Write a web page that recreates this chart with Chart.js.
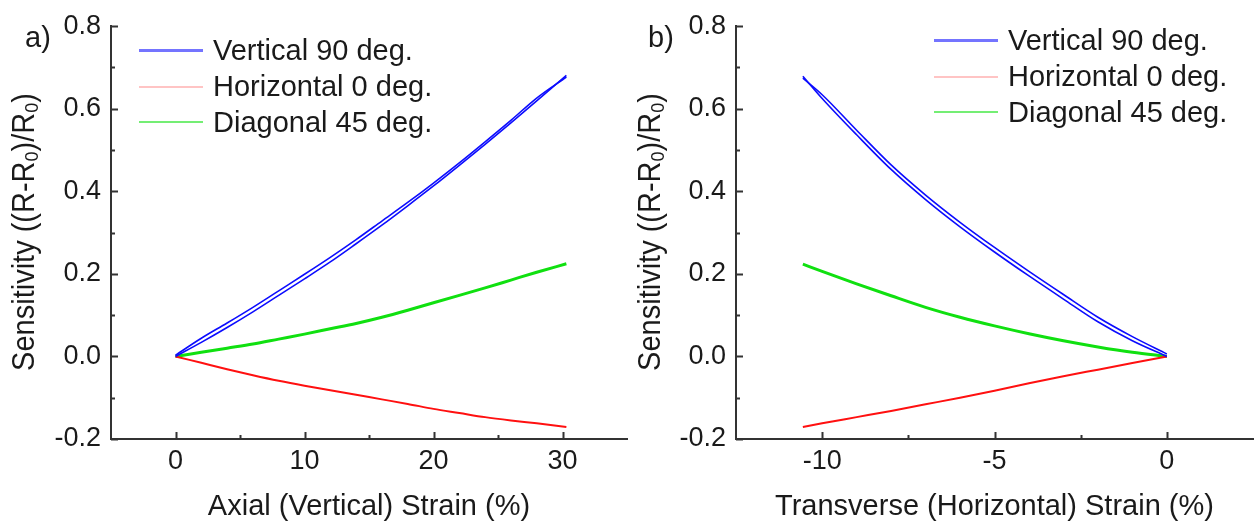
<!DOCTYPE html>
<html>
<head>
<meta charset="utf-8">
<script src="https://cdn.jsdelivr.net/npm/chart.js@4.4.1/dist/chart.umd.min.js"></script>
<style>
  body { margin: 0; background: #fff; font-family: "Liberation Sans", Arial, sans-serif; color: #1a1a1a; }
  #wrap { position: relative; width: 1254px; height: 527px; overflow: hidden; }
  .panel { position: absolute; top: 0; height: 527px; }
  .ytitle { position: absolute; font-size: 29px; white-space: nowrap; transform: translate(-50%, -50%) rotate(-90deg) scaleY(1.05); }
  .ytitle sub { font-size: 0.62em; vertical-align: -0.25em; }
  .tag { position: absolute; font-size: 29px; line-height: 29px; }
  .legend { position: absolute; font-size: 29px; }
  .legend .row { display: flex; align-items: center; height: 35.8px; }
  .legend .sw { width: 64px; margin-right: 10px; }
</style>
</head>
<body>
<div id="wrap">
  <div class="panel" style="left:0;width:628px"><canvas id="chartA"></canvas></div>
  <div class="panel" style="left:626px;width:628px"><canvas id="chartB"></canvas></div>
  <div class="tag" style="left:25px;top:23px">a)</div>
  <div class="tag" style="left:648px;top:23px">b)</div>
  <div class="ytitle" style="left:25px;top:232px">Sensitivity ((R-R<sub>0</sub>)/R<sub>0</sub>)</div>
  <div class="ytitle" style="left:651px;top:232px">Sensitivity ((R-R<sub>0</sub>)/R<sub>0</sub>)</div>
  <div class="legend" id="legendA" style="left:139px;top:33px"></div>
  <div class="legend" id="legendB" style="left:934px;top:23px"></div>
</div>
<script>
// ---- data ----
// panel a: axial strain (%)
const axialX = [0, 2, 4, 6, 8, 10, 12, 14, 16, 18, 20, 22, 24, 26, 28, 30.3];
const vertLoadA = [0, 0.034, 0.070, 0.108, 0.148, 0.188, 0.229, 0.273, 0.318, 0.365, 0.413, 0.463, 0.514, 0.566, 0.619, 0.681];
const vertUnloadA = [0.003, 0.044, 0.081, 0.119, 0.159, 0.199, 0.240, 0.283, 0.328, 0.373, 0.420, 0.469, 0.520, 0.572, 0.626, 0.677];
const horizA = [0, -0.0155, -0.031, -0.0455, -0.059, -0.071, -0.082, -0.093, -0.104, -0.115, -0.127, -0.137, -0.147, -0.155, -0.162, -0.171];
const diagA = [0, 0.010, 0.020, 0.030, 0.042, 0.054, 0.067, 0.080, 0.095, 0.112, 0.130, 0.148, 0.166, 0.185, 0.204, 0.2245];

// panel b: transverse strain (%)
const transX = [-10.56, -10, -9, -8, -7, -6, -5, -4, -3, -2, -1, 0];
const vertLoadB = [0.679, 0.625, 0.537, 0.453, 0.380, 0.314, 0.253, 0.195, 0.139, 0.084, 0.038, 0];
const vertUnloadB = [0.674, 0.634, 0.548, 0.464, 0.391, 0.325, 0.264, 0.206, 0.150, 0.095, 0.048, 0.006];
const horizB = [-0.171, -0.162, -0.147, -0.132, -0.116, -0.100, -0.083, -0.065, -0.048, -0.032, -0.016, 0];
const diagB = [0.2236, 0.206, 0.176, 0.147, 0.119, 0.095, 0.074, 0.055, 0.038, 0.023, 0.010, 0];

const seriesNames = ["Vertical 90 deg.", "Horizontal 0 deg.", "Diagonal 45 deg."];

// ticks
const yMajor = [-0.2, 0, 0.2, 0.4, 0.6, 0.8];
const yMinor = [-0.1, 0.1, 0.3, 0.5, 0.7];
const xMajorA = [0, 10, 20, 30];
const xMinorA = [5, 15, 25];
const xMajorB = [-10, -5, 0];
const xMinorB = [-7.5, -2.5];

const FONT = "'Liberation Sans', Arial, sans-serif";
const AXIS = "#333";
const LINE_COLORS = ["#0c0cff", "#ff1010", "#10e010"];
const SWATCH = [
  { color: "#7474ff", h: 3 },
  { color: "#ffc4c4", h: 2 },
  { color: "#74ee74", h: 2 }
];

function pts(xs, ys) { return xs.map((x, i) => ({ x, y: ys[i] })); }

function buildLegend(id) {
  const el = document.getElementById(id);
  seriesNames.forEach((name, i) => {
    const row = document.createElement("div");
    row.className = "row";
    const sw = document.createElement("div");
    sw.className = "sw";
    sw.style.height = SWATCH[i].h + "px";
    sw.style.background = SWATCH[i].color;
    const lab = document.createElement("span");
    lab.textContent = name;
    row.appendChild(sw);
    row.appendChild(lab);
    el.appendChild(row);
  });
}

// Origin-style ticks pointing into the plot
const innerTicks = {
  id: "innerTicks",
  afterDraw(chart, args, o) {
    const { ctx, chartArea: a, scales: { x, y } } = chart;
    ctx.save();
    ctx.strokeStyle = AXIS;
    ctx.lineWidth = 2;
    ctx.beginPath();
    const xt = (list, len) => list.forEach(v => {
      const p = Math.round(x.getPixelForValue(v)) + 0.5;
      ctx.moveTo(p, a.bottom); ctx.lineTo(p, a.bottom - len);
    });
    const yt = (list, len) => list.forEach(v => {
      const p = Math.round(y.getPixelForValue(v)) + 0.5;
      ctx.moveTo(a.left, p); ctx.lineTo(a.left + len, p);
    });
    xt(o.xMajor, 7); xt(o.xMinor, 4);
    yt(yMajor, 7); yt(yMinor, 4);
    ctx.stroke();
    ctx.restore();
  }
};

function line(data, color, width) {
  return {
    data, borderColor: color, borderWidth: width, showLine: true,
    pointRadius: 0, cubicInterpolationMode: "monotone", fill: false
  };
}

function makeChart(id, cfg) {
  return new Chart(document.getElementById(id), {
    type: "scatter",
    data: {
      datasets: [
        line(pts(cfg.x, cfg.vLoad), LINE_COLORS[0], 1.6),
        line(pts(cfg.x, cfg.vUnload), LINE_COLORS[0], 1.6),
        line(pts(cfg.x, cfg.h), LINE_COLORS[1], 2),
        line(pts(cfg.x, cfg.d), LINE_COLORS[2], 3)
      ]
    },
    options: {
      responsive: true,
      maintainAspectRatio: false,
      animation: false,
      layout: { padding: { left: 0, right: 1, top: 23, bottom: 0 } },
      plugins: {
        legend: { display: false },
        tooltip: { enabled: false },
        innerTicks: { xMajor: cfg.xMajor, xMinor: cfg.xMinor }
      },
      scales: {
        x: {
          type: "linear", min: cfg.xMin, max: cfg.xMax,
          afterBuildTicks: s => { s.ticks = cfg.xMajor.map(v => ({ value: v })); },
          afterFit: s => { s.height = 88; },
          grid: { display: false, drawTicks: false },
          border: { display: true, color: AXIS, width: 2 },
          ticks: {
            autoSkip: false, maxRotation: 0, padding: 6, color: "#1a1a1a",
            font: { family: FONT, size: 27 },
            callback: v => String(v)
          },
          title: {
            display: true, text: cfg.xTitle, color: "#1a1a1a",
            font: { family: FONT, size: 29 }, padding: { top: 0, bottom: 3 }
          }
        },
        y: {
          min: -0.2, max: 0.8,
          afterBuildTicks: s => { s.ticks = yMajor.map(v => ({ value: v })); },
          afterFit: s => { s.width = cfg.yWidth; },
          grid: { display: false, drawTicks: false },
          border: { display: true, color: AXIS, width: 2 },
          ticks: {
            autoSkip: false, padding: 10, color: "#1a1a1a",
            font: { family: FONT, size: 27 },
            callback: v => v.toFixed(1)
          }
        }
      }
    },
    plugins: [innerTicks]
  });
}

makeChart("chartA", {
  x: axialX, vLoad: vertLoadA, vUnload: vertUnloadA, h: horizA, d: diagA,
  xMin: -5, xMax: 35, xMajor: xMajorA, xMinor: xMinorA, yWidth: 111,
  xTitle: "Axial (Vertical) Strain (%)"
});

makeChart("chartB", {
  x: transX, vLoad: vertLoadB, vUnload: vertUnloadB, h: horizB, d: diagB,
  xMin: -12.5, xMax: 2.5, xMajor: xMajorB, xMinor: xMinorB, yWidth: 110,
  xTitle: "Transverse (Horizontal) Strain (%)"
});

buildLegend("legendA");
buildLegend("legendB");
</script>
</body>
</html>
